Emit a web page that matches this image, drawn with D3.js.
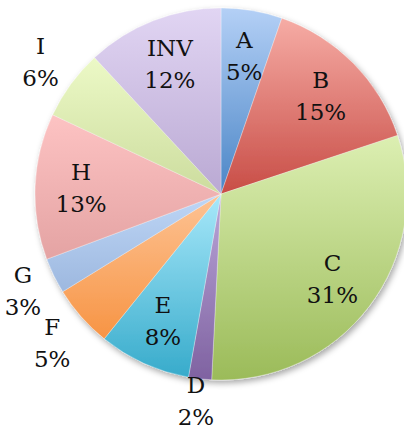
<!DOCTYPE html>
<html lang="en"><head>
<meta charset="utf-8">
<title>pie</title>
<script src="https://cdn.jsdelivr.net/npm/d3@7"></script>
<style>
  body { margin: 0; background: #fff; }
  text { font-family: "DejaVu Serif", serif; font-size: 23px; fill: #111; }
</style>
</head>
<body>
<svg width="404" height="430"></svg>
<script>
// slice names, values (percent) and label placement
var names = ["A", "B", "C", "D", "E", "F", "G", "H", "I", "INV"];
var values = [5.3, 14.6, 30.9, 2.0, 8.0, 5.4, 3.1, 12.7, 6.1, 11.9];
var labelPlace = ["in", "in", "in", "out", "in", "out", "out", "in", "out", "in"];
var topColors = ["#b4d0f6", "#f6aca5", "#dcefb2", "#baa6d8", "#a8e8fa", "#fdc394", "#bed6f6", "#fdc3c3", "#ecf9c6", "#e1d5f3"];
var botColors = ["#4a85c6", "#c84d46", "#9bbb59", "#7f62a1", "#37abcb", "#f79444", "#9db8df", "#e4a3a3", "#ccdc9e", "#baa9d3"];

var svg = d3.select("svg"),
    width = +svg.attr("width"),
    height = +svg.attr("height"),
    cx = 221, cy = 194, radius = 186;

var defs = svg.append("defs");
var shadow = defs.append("filter").attr("id", "shadow")
    .attr("x", "-20%").attr("y", "-20%").attr("width", "140%").attr("height", "140%");
shadow.append("feDropShadow")
    .attr("dx", 2).attr("dy", 3).attr("stdDeviation", 3)
    .attr("flood-color", "#000").attr("flood-opacity", 0.35);

names.forEach(function(n, i) {
  var g = defs.append("linearGradient").attr("id", "grad" + i)
      .attr("x1", 0).attr("y1", 0).attr("x2", 0).attr("y2", 1);
  g.append("stop").attr("offset", "0%").attr("stop-color", topColors[i]);
  g.append("stop").attr("offset", "100%").attr("stop-color", botColors[i]);
});

var data = names.map(function(n, i) { return {name: n, value: values[i], place: labelPlace[i], idx: i}; });

var pie = d3.pie().sort(null).value(function(d) { return d.value; });
var arc = d3.arc().innerRadius(0).outerRadius(radius);
var inArc = d3.arc().innerRadius(140).outerRadius(140);

var arcs = pie(data);

var chart = svg.append("g").attr("transform", "translate(" + cx + "," + cy + ")");

chart.append("g").attr("filter", "url(#shadow)")
  .selectAll("path")
  .data(arcs)
  .enter().append("path")
    .attr("d", arc)
    .attr("fill", function(d) { return "url(#grad" + d.data.idx + ")"; })
    .attr("stroke", "rgba(255,255,255,0.5)")
    .attr("stroke-width", 0.6);

var labels = chart.selectAll("g.label")
  .data(arcs)
  .enter().append("g")
    .attr("class", "label");

labels.append("text")
    .attr("text-anchor", "middle")
    .attr("y", -8)
    .text(function(d) { return d.data.name; });

labels.append("text")
    .attr("text-anchor", "middle")
    .attr("y", 24)
    .text(function(d) { return Math.round(d.data.value) + "%"; });

// inside labels sit on a ring, outside ones: nearest box point just clears the rim
var halfH = 29, gap = 6;
labels.attr("transform", function(d) {
  if (d.data.place == "in") {
    var c = inArc.centroid(d);
    return "translate(" + c[0] + "," + c[1] + ")";
  }
  var halfW = this.getBBox().width / 2;
  var a = (d.startAngle + d.endAngle) / 2;
  var ux = Math.sin(a), uy = -Math.cos(a);
  function dist(t) {
    var x = t * ux, y = t * uy;
    var nx = Math.max(x - halfW, Math.min(0, x + halfW));
    var ny = Math.max(y - halfH, Math.min(0, y + halfH));
    return Math.hypot(nx, ny);
  }
  var t = radius;
  while (dist(t) < radius + gap) t += 0.5;
  var px = t * ux, py = t * uy;
  // keep the block inside the picture
  py = Math.min(py, height - cy - halfH);
  px = Math.max(px, -cx + halfW + 4);
  return "translate(" + px + "," + py + ")";
});
</script>
</body>
</html>
